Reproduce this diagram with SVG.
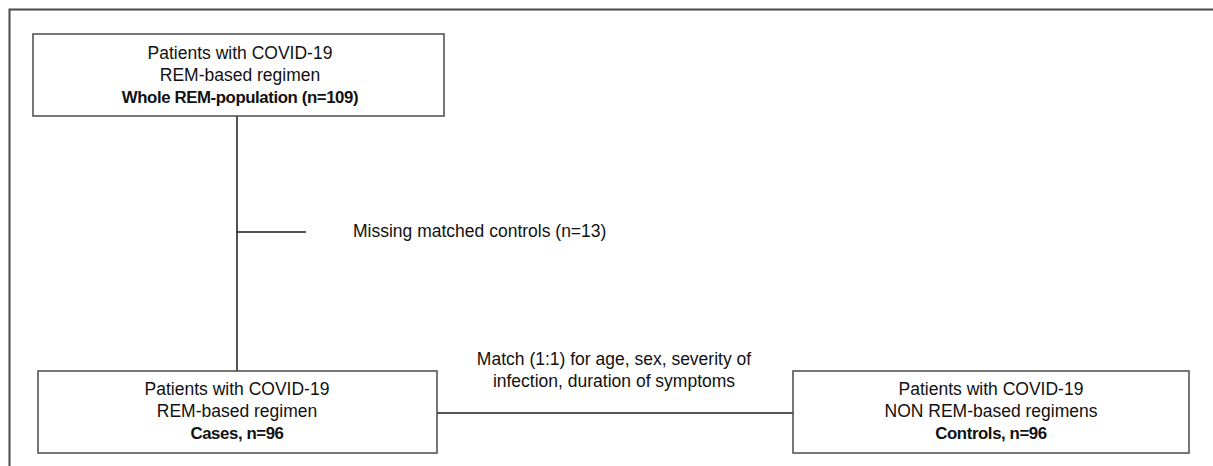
<svg xmlns="http://www.w3.org/2000/svg" width="1213" height="466" viewBox="0 0 1213 466">
<style>
.frame{fill:none;stroke:#4a4a4a;stroke-width:2}
.box{fill:#fff;stroke:#4a4a4a;stroke-width:1.5}
.ln{fill:none;stroke:#1a1a1a;stroke-width:1.5}
text{font-family:"Liberation Sans",Arial,sans-serif;font-size:17.5px;fill:#111}
.c{text-anchor:middle}
.b{font-weight:bold;font-size:16.8px;letter-spacing:-0.4px}
</style>
<rect width="1213" height="466" fill="#fff"/>
<rect class="frame" x="9.5" y="9.5" width="1300" height="500"/>
<g id="connectors">
<line class="ln" x1="237" y1="116" x2="237" y2="371"/>
<line class="ln" x1="237" y1="232" x2="306" y2="232"/>
<line class="ln" x1="437" y1="413" x2="793" y2="413"/>
</g>
<g id="node-whole">
<rect class="box" x="33" y="34" width="411" height="82"/>
<text class="c" x="240" y="59">Patients with COVID-19</text>
<text class="c" x="240" y="81">REM-based regimen</text>
<text class="c b" x="240" y="103">Whole REM-population (n=109)</text>
</g>
<g id="node-missing">
<text x="353" y="237">Missing matched controls (n=13)</text>
</g>
<g id="node-cases">
<rect class="box" x="38" y="371" width="399" height="82"/>
<text class="c" x="237" y="395">Patients with COVID-19</text>
<text class="c" x="237" y="417">REM-based regimen</text>
<text class="c b" x="237" y="439">Cases, n=96</text>
</g>
<g id="node-match">
<text class="c" x="614" y="365">Match (1:1) for age, sex, severity of</text>
<text class="c" x="614" y="387">infection, duration of symptoms</text>
</g>
<g id="node-controls">
<rect class="box" x="793" y="371" width="396" height="82"/>
<text class="c" x="991" y="395">Patients with COVID-19</text>
<text class="c" x="991" y="417">NON REM-based regimens</text>
<text class="c b" x="991" y="439">Controls, n=96</text>
</g>
</svg>
